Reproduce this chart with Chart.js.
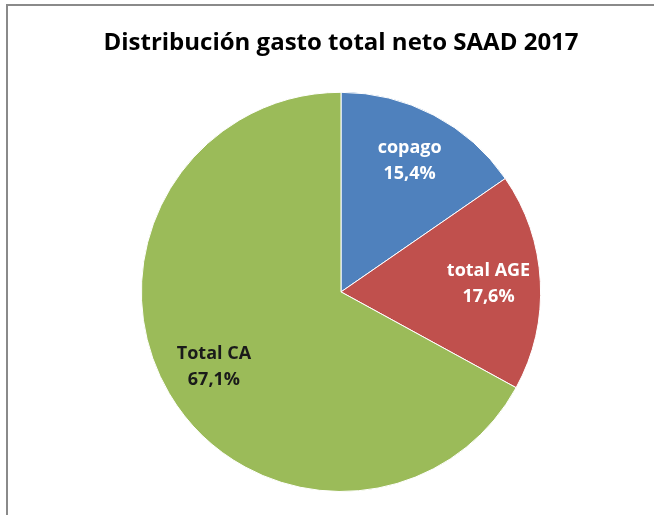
<!DOCTYPE html>
<html>
<head>
<meta charset="utf-8">
<script src="https://cdn.jsdelivr.net/npm/chart.js@4"></script>
<style>
  html, body { margin: 0; padding: 0; background: #fff; }
  #wrap { position: relative; width: 654px; height: 515px; overflow: hidden; }
  #frame { position: absolute; left: 6px; top: 4px; width: 700px; height: 600px;
           border-left: 2px solid #8a8a8a; border-top: 2px solid #8a8a8a; }
  canvas { position: absolute; left: 0; top: 0; }
</style>
</head>
<body>
<div id="wrap">
  <div id="frame"></div>
  <canvas id="chart" width="654" height="515"></canvas>
</div>
<script>
  // data
  var categories = ['copago', 'total AGE', 'Total CA'];
  var percentages = [15.4, 17.6, 67.1];
  var sliceColors = ['#4F81BD', '#C0504D', '#9BBB59'];
  var labelColors = ['#ffffff', '#ffffff', '#1a1a1a'];
  var chartTitle = 'Distribución gasto total neto SAAD 2017';

  var fontFamily = '"Open Sans", "DejaVu Sans", sans-serif';

  // draw the data labels inside each slice, Excel style
  var sliceLabels = {
    id: 'sliceLabels',
    afterDatasetsDraw: function(chart) {
      var ctx = chart.ctx;
      var meta = chart.getDatasetMeta(0);
      ctx.save();
      ctx.font = 'bold 18px ' + fontFamily;
      ctx.textAlign = 'center';
      ctx.textBaseline = 'middle';
      meta.data.forEach(function(arc, i) {
        var mid = (arc.startAngle + arc.endAngle) / 2;
        var r = arc.outerRadius * 0.74;
        var x = arc.x + Math.cos(mid) * r;
        var y = arc.y + Math.sin(mid) * r;
        var pct = percentages[i].toFixed(1).replace('.', ',') + '%';
        ctx.fillStyle = labelColors[i];
        ctx.fillText(categories[i], x, y - 13);
        ctx.fillText(pct, x, y + 13);
      });
      ctx.restore();
    }
  };

  new Chart(document.getElementById('chart'), {
    type: 'pie',
    data: {
      labels: categories,
      datasets: [{
        data: percentages,
        backgroundColor: sliceColors,
        borderColor: '#ffffff',
        borderWidth: 1
      }]
    },
    options: {
      responsive: false,
      animation: false,
      layout: { padding: { left: 28, right: 0, top: 0, bottom: 23 } },
      plugins: {
        legend: { display: false },
        tooltip: { enabled: false },
        title: {
          display: true,
          text: chartTitle,
          color: '#000',
          font: { family: fontFamily, size: 24, weight: 'bold', lineHeight: 1.2 },
          padding: { top: 29, bottom: 34 }
        }
      }
    },
    plugins: [sliceLabels]
  });
</script>
</body>
</html>
